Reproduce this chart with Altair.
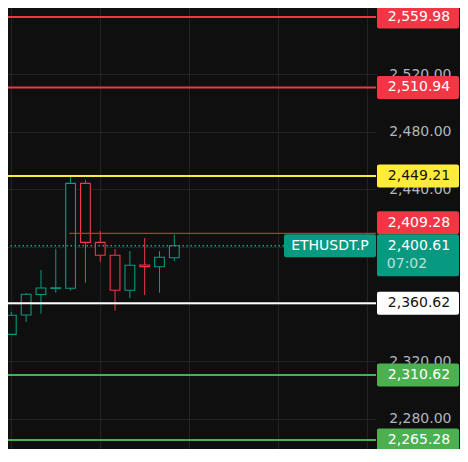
import altair as alt
import pandas as pd

# ---------------- data ----------------
IDX = list(range(13))
OPEN = [2344.0, 2338.9, 2352.4, 2366.6, 2370.9, 2371.0, 2444.1, 2403.0, 2394.0, 2369.6, 2387.2, 2386.0, 2392.3]
HIGH = [2344.0, 2354.5, 2367.7, 2383.7, 2398.4, 2449.2, 2446.4, 2410.9, 2398.4, 2397.0, 2406.0, 2397.0, 2408.3]
LOW = [2339.1, 2338.9, 2347.5, 2353.3, 2367.9, 2369.3, 2374.9, 2389.5, 2355.4, 2364.2, 2366.3, 2367.9, 2390.0]
CLOSE = [2339.1, 2352.2, 2366.8, 2371.2, 2371.3, 2444.1, 2403.0, 2394.0, 2369.6, 2387.0, 2386.1, 2392.6, 2400.61]

LEVELS = [2559.98, 2510.94, 2449.21, 2360.62, 2310.62, 2265.28]
LEVEL_KIND = ["red", "red", "yellow", "white", "green", "green"]
RAY_LEVEL = 2409.28
RAY_START_IDX = 4.9
LAST_PRICE = 2400.61
SYMBOL = "ETHUSDT.P"
COUNTDOWN = "07:02"
Y_TICKS = [2280, 2320, 2360, 2400, 2440, 2480, 2520, 2560]
X_GRID = [1, 7, 13, 19, 25]

# ---------------- style ----------------
BG = "#0f0f0f"
GRID = "#232323"
UP = "#089981"
DOWN = "#f23645"
KINDS = ["red", "yellow", "white", "green", "up", "down", "teal"]
FILLS = ["#f23645", "#ffeb3b", "#ffffff", "#4caf50", UP, DOWN, "#089981"]
TEXTS = ["#ffffff", "#131313", "#131313", "#ffffff", "#ffffff", "#ffffff", "#ffffff"]
FONT = "DejaVu Sans"

PLOT_W, PLOT_H = 376, 462
X_MIN, X_MAX = 0.236, 25.61
Y_MIN, Y_MAX = 2249.96, 2571.82
PPU = PLOT_H / (Y_MAX - Y_MIN)  # pixels per price unit


def px(n):
    return n / PPU


BOX_H = 23
BOX_X0, BOX_X1, TEXT_X = PLOT_W + 1, PLOT_W + 83, PLOT_W + 43

xs = alt.Scale(domain=[X_MIN, X_MAX], nice=False, zero=False)
ys = alt.Scale(domain=[Y_MIN, Y_MAX], nice=False, zero=False)
fill_scale = alt.Scale(domain=KINDS, range=FILLS)
text_scale = alt.Scale(domain=KINDS, range=TEXTS)

X_AXIS = alt.Axis(values=X_GRID, labels=False, ticks=False, domain=False,
                  grid=True, gridColor=GRID, title=None)
Y_AXIS = alt.Axis(orient="right", values=Y_TICKS, format=",.2f", labelAlign="right",
                  labelBaseline="middle", labelPadding=75, ticks=False, domain=False,
                  grid=True, gridColor=GRID, labelColor="#b2b5be", labelFont=FONT,
                  labelFontSize=14, labelOverlap=False, labelBound=False, title=None)


def Y(field):
    return alt.Y(field, scale=ys, axis=Y_AXIS)


def X(field):
    return alt.X(field, scale=xs, axis=X_AXIS)


candles = pd.DataFrame({"i": IDX, "open": OPEN, "high": HIGH, "low": LOW, "close": CLOSE})
candles["dir"] = ["up" if c >= o else "down" for o, c in zip(OPEN, CLOSE)]
candles["x0"] = candles["i"] - 0.33
candles["x1"] = candles["i"] + 0.33

levels = pd.DataFrame({"v": LEVELS, "kind": LEVEL_KIND})
ray = pd.DataFrame({"v": [RAY_LEVEL], "x0": [RAY_START_IDX], "x1": [X_MAX], "kind": ["red"]})
last = pd.DataFrame({"v": [LAST_PRICE]})

# label boxes on the price scale
box_rows = []
for v, k in zip(LEVELS, LEVEL_KIND):
    box_rows.append({"top": v + px(BOX_H / 2), "bot": v - px(BOX_H / 2), "mid": v,
                     "kind": k, "label": f"{v:,.2f}"})
ray_bot = LAST_PRICE + px(BOX_H / 2)
box_rows.append({"top": ray_bot + px(BOX_H), "bot": ray_bot, "mid": ray_bot + px(BOX_H / 2),
                 "kind": "red", "label": f"{RAY_LEVEL:,.2f}"})
boxes = pd.DataFrame(box_rows)

last_box = pd.DataFrame({"top": [LAST_PRICE + px(BOX_H / 2)], "bot": [LAST_PRICE - px(30.5)], "kind": ["teal"]})
sym_box = pd.DataFrame({"top": [LAST_PRICE + px(BOX_H / 2)], "bot": [LAST_PRICE - px(BOX_H / 2)], "kind": ["teal"]})
last_text = pd.DataFrame({"mid": [LAST_PRICE], "label": [f"{LAST_PRICE:,.2f}"]})
count_text = pd.DataFrame({"mid": [LAST_PRICE - px(18.5)], "label": [COUNTDOWN]})
sym_text = pd.DataFrame({"mid": [LAST_PRICE], "label": [SYMBOL]})

# ---------------- layers ----------------
wicks = alt.Chart(candles).mark_rule(strokeWidth=1, clip=True).encode(
    x=X("i:Q"), y=Y("low:Q"), y2="high:Q",
    stroke=alt.Stroke("dir:N", scale=fill_scale, legend=None),
)

bodies = alt.Chart(candles).mark_rect(fill=BG, strokeWidth=1.1, clip=True).encode(
    x=X("x0:Q"), x2="x1:Q", y=Y("open:Q"), y2="close:Q",
    stroke=alt.Stroke("dir:N", scale=fill_scale, legend=None),
)

level_lines = alt.Chart(levels).mark_rule(strokeWidth=2).encode(
    y=Y("v:Q"),
    stroke=alt.Stroke("kind:N", scale=fill_scale, legend=None),
)

ray_line = alt.Chart(ray).mark_rule(strokeWidth=1, clip=True).encode(
    x=X("x0:Q"), x2="x1:Q", y=Y("v:Q"),
    stroke=alt.Stroke("kind:N", scale=fill_scale, legend=None),
)

last_line = alt.Chart(last).mark_rule(strokeWidth=1.6, strokeDash=[1.5, 2.5], color="#0aa88c").encode(
    y=Y("v:Q"),
)

box_marks = alt.Chart(boxes).mark_rect(cornerRadius=2).encode(
    x=alt.value(BOX_X0), x2=alt.value(BOX_X1),
    y=Y("top:Q"), y2="bot:Q",
    fill=alt.Fill("kind:N", scale=fill_scale, legend=None),
)
box_texts = alt.Chart(boxes).mark_text(font=FONT, fontSize=14, align="center", baseline="middle").encode(
    x=alt.value(TEXT_X),
    y=Y("mid:Q"),
    text="label:N",
    color=alt.Color("kind:N", scale=text_scale, legend=None),
)

last_box_mark = alt.Chart(last_box).mark_rect(cornerRadius=2).encode(
    x=alt.value(BOX_X0), x2=alt.value(BOX_X1),
    y=Y("top:Q"), y2="bot:Q",
    fill=alt.Fill("kind:N", scale=fill_scale, legend=None),
)
sym_box_mark = alt.Chart(sym_box).mark_rect(cornerRadius=2).encode(
    x=alt.value(PLOT_W - 92), x2=alt.value(PLOT_W),
    y=Y("top:Q"), y2="bot:Q",
    fill=alt.Fill("kind:N", scale=fill_scale, legend=None),
)
last_txt = alt.Chart(last_text).mark_text(font=FONT, fontSize=14, align="center", baseline="middle",
                                          color="#ffffff").encode(
    x=alt.value(TEXT_X), y=Y("mid:Q"), text="label:N")
count_txt = alt.Chart(count_text).mark_text(font=FONT, fontSize=14, align="center", baseline="middle",
                                            color="#ffffff", opacity=0.7).encode(
    x=alt.value(TEXT_X - 12), y=Y("mid:Q"), text="label:N")
sym_txt = alt.Chart(sym_text).mark_text(font=FONT, fontSize=14, align="center", baseline="middle",
                                        color="#ffffff").encode(
    x=alt.value(PLOT_W - 46), y=Y("mid:Q"), text="label:N")

chart = alt.layer(
    wicks, bodies, level_lines, ray_line, last_line,
    box_marks, box_texts, last_box_mark, sym_box_mark, last_txt, count_txt, sym_txt,
).properties(
    width=PLOT_W, height=PLOT_H, background=BG,
    padding={"left": -8, "top": -8, "right": 84, "bottom": -13},
    autosize=alt.AutoSizeParams(type="none"),
).configure_view(stroke=None)

chart.save("out.html", embed_options={"renderer": "svg", "actions": False})
